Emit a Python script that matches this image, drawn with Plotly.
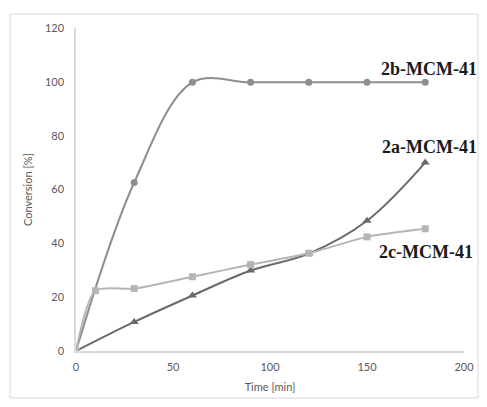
import plotly.graph_objects as go

# Data
t_2b = [0, 30, 60, 90, 120, 150, 180]
conv_2b = [0, 62.6, 99.8, 99.8, 99.8, 99.8, 99.8]
t_2a = [0, 30, 60, 90, 120, 150, 180]
conv_2a = [0, 10.8, 20.6, 29.9, 36.2, 48.4, 70.0]
t_2c = [0, 10, 30, 60, 90, 120, 150, 180]
conv_2c = [0, 22.4, 23.2, 27.6, 32.1, 36.3, 42.4, 45.4]
x_ticks = [0, 50, 100, 150, 200]
y_ticks = [0, 20, 40, 60, 80, 100, 120]
labels = ["2b-MCM-41", "2a-MCM-41", "2c-MCM-41"]

OFF = 8  # page body margin
W, H = 487 - 2 * OFF, 407 - 2 * OFF
L, R, T, B = 76 - OFF, 23 - OFF, 28 - OFF, 56 - OFF
pw, ph = W - L - R, H - T - B

def px(x):
    return (x - OFF - L) / pw

def py(y):
    return (H - B - (y - OFF)) / ph

fig = go.Figure()
fig.add_trace(go.Scatter(x=t_2b, y=conv_2b, mode="lines+markers",
                         line=dict(color="#8e8e8e", width=2, shape="spline", smoothing=1),
                         marker=dict(symbol="circle", size=7, color="#8e8e8e"), name=labels[0]))
fig.add_trace(go.Scatter(x=t_2a, y=conv_2a, mode="lines+markers",
                         line=dict(color="#6a6a6a", width=2, shape="spline", smoothing=1),
                         marker=dict(symbol="triangle-up", size=8, color="#6a6a6a"), name=labels[1]))
fig.add_trace(go.Scatter(x=t_2c, y=conv_2c, mode="lines+markers",
                         line=dict(color="#b5b5b5", width=2, shape="spline", smoothing=0.7),
                         marker=dict(symbol="square", size=7, color="#b5b5b5"), name=labels[2]))

tickfont = dict(family="Lato, Liberation Sans, sans-serif", size=11, color="#595959")
fig.update_layout(
    width=W, height=H, showlegend=False,
    margin=dict(l=L, r=R, t=T, b=B, autoexpand=False),
    paper_bgcolor="white", plot_bgcolor="white",
    xaxis=dict(range=[0, 200], tickvals=x_ticks, showgrid=False, zeroline=False,
               showline=True, linecolor="#d9d9d9", linewidth=1.5,
               ticks="outside", ticklen=5, tickcolor="rgba(0,0,0,0)",
               tickfont=tickfont, automargin=False,
               title=dict(text="Time [min]", font=tickfont, standoff=11)),
    yaxis=dict(range=[0, 120], tickvals=y_ticks, showgrid=False, zeroline=False,
               showline=True, linecolor="#d9d9d9", linewidth=1.5,
               ticks="outside", ticklen=8, tickcolor="rgba(0,0,0,0)",
               tickfont=tickfont, automargin=False,
               title=dict(text="Conversion [%]", font=tickfont, standoff=10)),
)

lab_font = dict(family="Liberation Serif, Times New Roman, serif", size=18, color="#1a1a1a")
for text, cx, cy in [(labels[0], 429, 69), (labels[1], 429, 147), (labels[2], 426, 252)]:
    fig.add_annotation(text="<b>%s</b>" % text, x=px(cx), y=py(cy), xref="paper", yref="paper",
                       showarrow=False, font=lab_font, xanchor="center", yanchor="middle")

# chart frame
fig.add_shape(type="rect", xref="paper", yref="paper", x0=px(10), x1=px(478), y0=py(398), y1=py(14),
              line=dict(color="#d9d9d9", width=1), layer="below")

fig.write_html("out.html")
